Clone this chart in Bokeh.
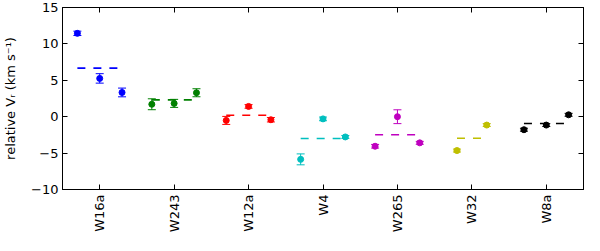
import math
import numpy as np
from bokeh.plotting import figure
from bokeh.models import ColumnDataSource, Range1d, FixedTicker, LinearAxis, Whisker, TeeHead
from bokeh.embed import file_html
from bokeh.resources import INLINE

# ---- data ----
stars = ["W16a", "W243", "W12a", "W4", "W265", "W32", "W8a"]
colors = ["#0000ff", "#008000", "#ff0000", "#00bfbf", "#bf00bf", "#bfbf00", "#000000"]

vr_w16a = [11.45, 5.26, 3.33]
err_w16a = [0.30, 0.65, 0.60]
vr_w243 = [1.71, 1.83, 3.29]
err_w243 = [0.75, 0.55, 0.55]
vr_w12a = [-0.51, 1.41, -0.42]
err_w12a = [0.55, 0.25, 0.30]
vr_w4 = [-5.86, -0.30, -2.78]
err_w4 = [0.75, 0.25, 0.20]
vr_w265 = [-4.06, 0.00, -3.59]
err_w265 = [0.25, 0.95, 0.20]
vr_w32 = [-4.65, -1.15]
err_w32 = [0.20, 0.20]
vr_w8a = [-1.79, -1.15, 0.26]
err_w8a = [0.20, 0.20, 0.20]

mean_vr = [6.67, 2.31, 0.19, -2.99, -2.48, -2.95, -0.94]

y_ticks = [-10, -5, 0, 5, 10, 15]

all_vr = [vr_w16a, vr_w243, vr_w12a, vr_w4, vr_w265, vr_w32, vr_w8a]
all_err = [err_w16a, err_w243, err_w12a, err_w4, err_w265, err_w32, err_w8a]

FONT = "DejaVu Sans"

p = figure(width=584, height=235, output_backend="svg", toolbar_location=None,
           x_range=Range1d(-0.5, 6.5), y_range=Range1d(-10, 15),
           min_border_left=52, min_border_right=1, min_border_top=7, min_border_bottom=43)
p.xgrid.visible = False
p.ygrid.visible = False
p.outline_line_color = "black"
p.outline_line_width = 1
p.background_fill_color = "white"
p.border_fill_color = "white"

for i, (vals, errs, col) in enumerate(zip(all_vr, all_err, colors)):
    n = len(vals)
    w = 0.1 * n
    xs = list(i + np.linspace(-w, w, n))
    src = ColumnDataSource(dict(x=xs, y=vals,
                                upper=[v + e for v, e in zip(vals, errs)],
                                lower=[v - e for v, e in zip(vals, errs)]))
    wh = Whisker(source=src, base="x", upper="upper", lower="lower", dimension="height",
                 line_color=col, line_width=1,
                 upper_head=TeeHead(size=8, line_color=col, line_width=1),
                 lower_head=TeeHead(size=8, line_color=col, line_width=1))
    p.add_layout(wh)
    p.scatter("x", "y", source=src, size=6, color=col)
    p.segment(x0=[xs[0]], y0=[mean_vr[i]], x1=[xs[-1]], y1=[mean_vr[i]],
              line_color=col, line_width=1.6, line_dash="8 8")

xt = FixedTicker(ticks=list(range(len(stars))))
yt = FixedTicker(ticks=y_ticks)
xlabels = {k: s for k, s in enumerate(stars)}
ylabels = {t: (str(t).replace("-", "\u2212")) for t in y_ticks}

def style(ax):
    ax.axis_line_color = "black"
    ax.axis_line_width = 1
    ax.major_tick_in = 5
    ax.major_tick_out = 0
    ax.major_tick_line_color = "black"
    ax.minor_tick_line_color = None
    ax.major_label_text_font = FONT
    ax.major_label_text_font_size = "13px"
    ax.major_label_text_color = "black"

xa = p.xaxis[0]
xa.ticker = xt
xa.major_label_overrides = xlabels
xa.major_label_orientation = math.pi / 2
style(xa)
xa.major_label_standoff = 5

ya = p.yaxis[0]
ya.ticker = yt
ya.major_label_overrides = ylabels
style(ya)
ya.major_label_standoff = 4
ya.axis_label = "relative V\u1d63 (km s\u207b\u00b9)"
ya.axis_label_text_font = FONT
ya.axis_label_text_font_size = "13px"
ya.axis_label_text_font_style = "normal"
ya.axis_label_text_color = "black"
ya.axis_label_standoff = 10

top = LinearAxis(ticker=xt)
style(top)
top.major_label_text_color = None
top.major_label_text_font_size = "0px"
top.major_label_standoff = 0
p.add_layout(top, "above")

right = LinearAxis(ticker=yt)
style(right)
right.major_label_text_color = None
right.major_label_text_font_size = "0px"
right.major_label_standoff = 0
p.add_layout(right, "right")

open("out.html", "w").write(file_html(p, INLINE))
